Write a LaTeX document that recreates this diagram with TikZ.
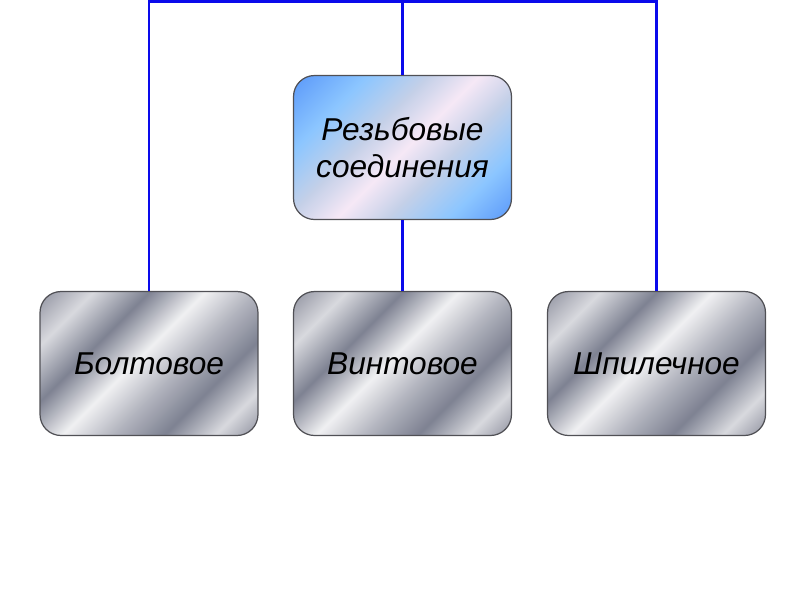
\documentclass[tikz,border=0pt]{standalone}
\usepackage{fontspec}
\setmainfont{Liberation Sans}
\usetikzlibrary{positioning}
\definecolor{linkblue}{RGB}{10,10,235}
\definecolor{boxedge}{RGB}{80,80,85}
\definecolor{chrA}{RGB}{148,150,163}
\definecolor{chrB}{RGB}{216,217,222}
\definecolor{chrC}{RGB}{126,130,146}
\definecolor{chrD}{RGB}{240,240,242}
\definecolor{chrE}{RGB}{178,180,190}
\definecolor{rzA}{RGB}{92,154,250}
\definecolor{rzB}{RGB}{140,198,255}
\definecolor{rzC}{RGB}{196,208,232}
\definecolor{rzD}{RGB}{246,232,246}
\pgfdeclarehorizontalshading{chrome}{100bp}{color(0bp)=(chrA); color(15bp)=(chrA);
  color(25bp)=(chrB); color(36bp)=(chrC); color(47bp)=(chrD); color(57bp)=(chrE);
  color(67bp)=(chrC); color(77bp)=(chrB); color(85bp)=(chrA); color(100bp)=(chrA)}
\pgfdeclarehorizontalshading{rezba}{100bp}{color(0bp)=(rzA); color(15bp)=(rzA);
  color(29bp)=(rzB); color(41bp)=(rzC); color(51bp)=(rzD); color(61bp)=(rzC);
  color(73bp)=(rzB); color(85bp)=(rzA); color(100bp)=(rzA)}
\tikzset{
  kind/.style={draw=boxedge,line width=0.7pt,rounded corners=0.42cm,minimum width=4.36cm,minimum height=2.88cm,
    shading=chrome,shading angle=-45,font=\fontsize{18}{21.5}\selectfont\itshape,align=center},
  root/.style={kind,shading=rezba},
  link/.style={linkblue,line width=1.7pt}
}
\begin{document}
\begin{tikzpicture}[x=0.02cm,y=-0.02cm]
  \useasboundingbox (0,0) rectangle (800,600);
  % Boxes
  \node[root] (rezba) at (402.5,147.5) {Резьбовые\\соединения};
  \node[kind] (bolt) at (149,363.5) {Болтовое};
  \node[kind] (vint) at (402.5,363.5) {Винтовое};
  \node[kind] (shpil) at (656.5,363.5) {Шпилечное};
  % Top bar
  \coordinate (bar) at (402.5,1.5);
  % Links
  \draw[link] (bolt.north) -- (bolt.north |- bar) -- (shpil.north |- bar) -- (shpil.north);
  \draw[link] (rezba.north) -- (rezba.north |- bar);
  \draw[link] (rezba.south) -- (vint.north);
\end{tikzpicture}
\end{document}
